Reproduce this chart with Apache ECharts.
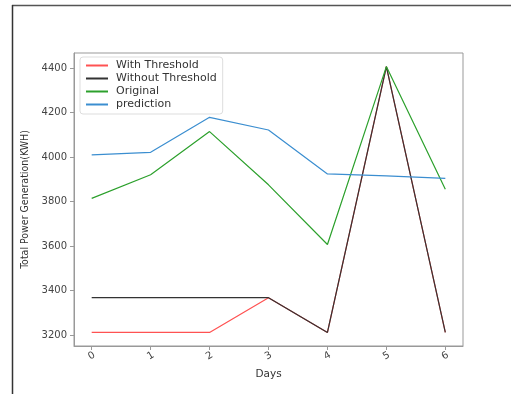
<!DOCTYPE html>
<html>
<head>
<meta charset="utf-8">
<script src="https://cdn.jsdelivr.net/npm/echarts@6/dist/echarts.min.js"></script>
<style>
  html, body { margin: 0; padding: 0; background: #fff; }
  #chart { width: 511px; height: 394px; }
</style>
</head>
<body>
<div id="chart"></div>
<script>
// data
var days = [0, 1, 2, 3, 4, 5, 6];
var yTicks = [3200, 3400, 3600, 3800, 4000, 4200, 4400];
var withThreshold = [3212, 3212, 3212, 3368, 3212, 4406, 3212];
var withoutThreshold = [3368, 3368, 3368, 3368, 3212, 4406, 3212];
var original = [3814, 3920, 4114, 3875, 3607, 4406, 3855];
var prediction = [4009, 4021, 4178, 4121, 3924, 3915, 3904];

var chart = echarts.init(document.getElementById('chart'));

function pairs(vals) {
    return days.map(function (d, i) { return [d, vals[i]]; });
}

function mkLine(name, vals, color) {
    return {
        name: name,
        type: 'line',
        data: pairs(vals),
        symbol: 'none',
        lineStyle: { color: color, width: 1.2 },
        itemStyle: { color: color },
        animation: false
    };
}

var font = 'DejaVu Sans';

var option = {
    backgroundColor: '#fff',
    textStyle: { fontFamily: font },
    graphic: [
        // outer frame of the screenshot (top + left edge)
        { type: 'line', shape: { x1: 12, y1: 5.5, x2: 511, y2: 5.5 }, style: { stroke: '#555', lineWidth: 1.5 } },
        { type: 'line', shape: { x1: 12.5, y1: 5, x2: 12.5, y2: 394 }, style: { stroke: '#333', lineWidth: 1.5 } }
    ],
    grid: {
        left: 74, right: 48, top: 53, bottom: 48,
        show: true, borderColor: '#999', borderWidth: 1
    },
    legend: {
        orient: 'vertical',
        left: 80, top: 57,
        padding: [2, 6, 3, 6],
        itemGap: 0,
        itemWidth: 22, itemHeight: 2,
        icon: 'rect',
        borderColor: '#ddd', borderWidth: 1, borderRadius: 3,
        backgroundColor: 'rgba(255,255,255,0.8)',
        textStyle: { fontFamily: font, fontSize: 11, color: '#333', lineHeight: 13, padding: [0, 0, 0, 3] },
        data: ['With Threshold', 'Without Threshold', 'Original', 'prediction']
    },
    xAxis: {
        type: 'value',
        min: -0.3, max: 6.3,
        name: 'Days',
        nameLocation: 'middle',
        nameGap: 22,
        nameTextStyle: { fontFamily: font, fontSize: 10.5, color: '#333' },
        axisLine: { show: true, onZero: false, lineStyle: { color: '#999' } },
        splitLine: { show: false },
        axisTick: { show: true, inside: false, length: 4, lineStyle: { color: '#999' }, customValues: days },
        axisLabel: {
            customValues: days,
            rotate: 30,
            align: 'center',
            verticalAlign: 'middle',
            margin: 10,
            fontFamily: font, fontSize: 10, color: '#444'
        }
    },
    yAxis: {
        type: 'value',
        min: 3151, max: 4467,
        name: 'Total Power Generation(KWH)',
        nameLocation: 'middle',
        nameGap: 34,
        nameTextStyle: { fontFamily: 'Liberation Sans Narrow, DejaVu Sans Condensed', fontSize: 10.5, color: '#333' },
        axisLine: { show: true, onZero: false, lineStyle: { color: '#999' } },
        splitLine: { show: false },
        axisTick: { show: true, inside: false, length: 4, lineStyle: { color: '#999' }, customValues: yTicks },
        axisLabel: {
            customValues: yTicks,
            margin: 7,
            formatter: function (v) { return String(v); },
            fontFamily: font, fontSize: 10, color: '#444'
        }
    },
    series: [
        mkLine('With Threshold', withThreshold, '#ff5252'),
        mkLine('Without Threshold', withoutThreshold, '#333333'),
        mkLine('Original', original, '#2ca02c'),
        mkLine('prediction', prediction, '#3b8ed0')
    ]
};

chart.setOption(option);
</script>
</body>
</html>
